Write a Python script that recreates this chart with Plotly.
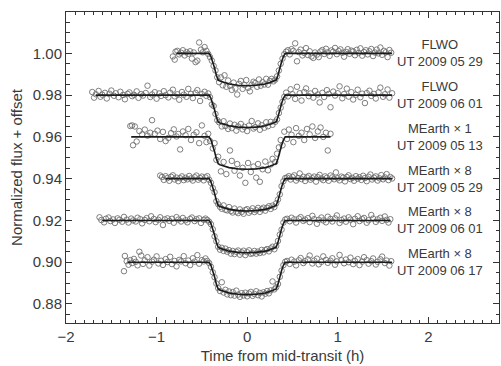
import plotly.graph_objects as go

# Offsets (normalized flux + offset) for each light curve
OFFSETS = [1.00, 0.98, 0.96, 0.94, 0.92, 0.90]
LABELS = ["FLWO<br>UT 2009 05 29", "FLWO<br>UT 2009 06 01", "MEarth \u00d7 1<br>UT 2009 05 13",
          "MEarth \u00d7 8<br>UT 2009 05 29", "MEarth \u00d7 8<br>UT 2009 06 01", "MEarth \u00d7 8<br>UT 2009 06 17"]
LINE_START = [-0.78, -1.67, -1.28, -0.90, -1.60, -1.32]
LINE_END = [1.60, 1.60, 0.92, 1.60, 1.58, 1.60]

# transit model (time h, relative flux in parts per thousand)
MODEL_T = [-0.42, -0.40, -0.38, -0.36, -0.34, -0.32, -0.30, -0.25, -0.20, -0.10, 0.0,
           0.10, 0.20, 0.25, 0.30, 0.32, 0.34, 0.36, 0.38, 0.40, 0.42]
MODEL_F = [0.0, -1.5, -4.0, -7.0, -10.5, -12.8, -13.3, -14.0, -14.7, -15.3, -15.5,
           -15.3, -14.7, -14.0, -13.3, -12.8, -10.5, -7.0, -4.0, -1.5, 0.0]

# observed points: (time h, relative flux ppt)
FLWO_0529 = [(-0.82,-1.5),(-0.80,-3.0),(-0.79,0.8),(-0.77,1.2),(-0.75,-0.5),(-0.73,0.3),(-0.71,1.5),(-0.69,-1.0),(-0.67,0.6),(-0.65,-0.2),
    (-0.63,1.0),(-0.61,-2.5),(-0.59,0.4),(-0.57,-4.2),(-0.55,-3.5),(-0.53,5.2),(-0.51,1.8),(-0.49,0.5),(-0.47,3.0),(-0.45,1.2),(-0.43,-0.3),
    (-0.41,-1.8),(-0.39,-3.5),(-0.37,-6.0),(-0.35,-8.2),(-0.33,-11.5),(-0.31,-13.8),
    (-0.29,-11.5),(-0.27,-15.3),(-0.25,-10.5),(-0.23,-16.0),(-0.21,-13.0),(-0.19,-15.5),(-0.17,-17.5),(-0.15,-14.0),(-0.13,-16.8),(-0.11,-19.7),
    (-0.09,-14.6),(-0.07,-13.2),(-0.05,-17.0),(-0.03,-15.2),(-0.01,-12.8),(0.01,-16.5),(0.03,-18.2),(0.05,-15.0),(0.07,-13.6),(0.09,-14.2),
    (0.11,-16.0),(0.13,-12.5),(0.15,-15.5),(0.17,-13.8),(0.19,-14.9),(0.21,-12.2),(0.23,-15.0),(0.25,-13.2),(0.27,-12.2),(0.29,-13.4),
    (0.31,-12.6),(0.33,-11.0),(0.35,-8.2),(0.37,-5.0),(0.39,-2.5),(0.41,-0.4),
    (0.43,0.8),(0.45,1.5),(0.47,-0.5),(0.49,2.0),(0.51,1.2),(0.53,4.8),(0.55,-3.8),(0.57,0.6),(0.59,1.8),(0.61,-1.0),
    (0.63,0.2),(0.65,2.5),(0.67,-0.8),(0.69,1.0),(0.71,-1.5),(0.73,-2.2),(0.75,0.4),(0.77,-0.6),(0.79,-1.8),(0.81,0.9),
    (0.83,1.6),(0.85,-0.3),(0.87,2.2),(0.89,0.5),(0.91,-1.2),(0.93,1.4),(0.95,0.8),(0.97,2.6),(0.99,-0.4),(1.01,1.1),
    (1.03,1.9),(1.05,0.3),(1.07,-1.6),(1.09,0.7),(1.11,2.0),(1.13,-0.2),(1.15,1.3),(1.17,0.9),(1.19,-0.9),(1.21,1.7),
    (1.23,0.2),(1.25,2.4),(1.27,-1.1),(1.29,0.6),(1.31,1.5),(1.33,-0.5),(1.35,1.0),(1.37,2.1),(1.39,-1.3),(1.41,0.4),
    (1.43,1.8),(1.45,0.0),(1.47,2.8),(1.49,-0.7),(1.51,1.2),(1.53,0.5),(1.55,-1.8),(1.57,1.6),(1.59,0.3)]

FLWO_0601 = [(-1.71,1.5),(-1.69,-1.2),(-1.67,0.4),(-1.64,2.0),(-1.62,-0.8),(-1.60,0.2),(-1.57,1.1),(-1.55,-1.6),(-1.52,0.7),(-1.50,2.2),
    (-1.47,-0.3),(-1.45,0.9),(-1.42,-1.0),(-1.40,1.6),(-1.37,0.1),(-1.35,-2.0),(-1.32,0.6),(-1.30,1.3),(-1.27,-0.5),(-1.25,0.2),
    (-1.22,1.8),(-1.20,-1.3),(-1.17,0.5),(-1.15,-0.2),(-1.12,1.0),(-1.10,4.5),(-1.07,-0.9),(-1.05,0.3),(-1.02,1.4),(-1.00,-1.7),
    (-0.97,0.8),(-0.95,-0.4),(-0.92,1.9),(-0.90,0.0),(-0.87,-1.1),(-0.85,1.2),(-0.82,2.6),(-0.80,-0.6),(-0.77,0.4),(-0.75,-2.2),
    (-0.72,1.5),(-0.70,0.2),(-0.67,-0.8),(-0.65,3.0),(-0.62,0.6),(-0.60,-1.4),(-0.57,1.1),(-0.55,2.4),(-0.52,-2.8),(-0.50,0.5),
    (-0.47,1.6),(-0.45,-0.4),(-0.43,0.8),
    (-0.41,-1.0),(-0.39,-4.5),(-0.37,-5.2),(-0.35,-9.0),(-0.33,-12.0),(-0.31,-13.0),
    (-0.28,-15.0),(-0.26,-12.5),(-0.24,-14.8),(-0.21,-16.2),(-0.19,-13.6),(-0.17,-15.8),(-0.14,-14.2),(-0.12,-17.0),(-0.10,-15.0),(-0.07,-13.8),
    (-0.05,-16.4),(-0.03,-15.2),(0.00,-17.2),(0.02,-14.6),(0.05,-12.4),(0.07,-16.0),(0.09,-15.3),(0.12,-13.5),(0.14,-16.6),(0.16,-14.4),
    (0.19,-15.6),(0.21,-13.0),(0.23,-14.9),(0.26,-12.8),(0.28,-14.2),
    (0.31,-12.8),(0.33,-11.6),(0.35,-8.6),(0.37,-6.0),(0.39,-3.2),(0.41,-0.8),
    (0.43,1.2),(0.45,-0.6),(0.48,2.8),(0.50,0.4),(0.53,-1.8),(0.55,4.0),(0.58,0.9),(0.60,-2.6),(0.63,1.5),(0.65,3.2),
    (0.68,-0.5),(0.70,0.8),(0.73,-1.2),(0.75,2.0),(0.78,0.3),(0.80,-3.5),(0.83,1.1),(0.85,-0.9),(0.88,2.4),(0.90,0.6),
    (0.92,-5.8),(0.95,1.7),(0.97,-0.2),(1.00,0.9),(1.02,4.2),(1.05,-1.5),(1.07,0.5),(1.10,3.1),(1.12,-0.7),(1.15,1.4),
    (1.17,-2.1),(1.20,0.2),(1.22,2.6),(1.25,-1.0),(1.27,0.7),(1.30,-3.8),(1.32,1.0),(1.35,2.1),(1.37,-0.4),(1.40,0.6),
    (1.42,-1.6),(1.45,1.3),(1.47,3.6),(1.50,-0.8),(1.52,0.4),(1.55,2.7),(1.57,-1.2),(1.60,0.9)]

MEARTH1_0513 = [(-1.29,5.2),(-1.27,5.5),(-1.26,-4.0),(-1.24,5.0),(-1.22,-2.2),(-1.19,2.8),(-1.16,1.2),(-1.13,3.5),(-1.10,0.6),(-1.07,2.0),
    (-1.05,8.0),(-1.02,1.5),(-0.99,3.0),(-0.96,-1.0),(-0.93,2.4),(-0.90,-2.0),(-0.87,-0.5),(-0.84,1.8),(-0.81,3.6),(-0.78,0.2),
    (-0.76,1.4),(-0.74,-6.0),(-0.71,2.6),(-0.68,0.8),(-0.65,3.8),(-0.62,-1.5),(-0.59,1.0),(-0.56,2.2),(-0.53,-3.0),(-0.50,5.5),
    (-0.47,0.5),(-0.45,-2.5),(-0.43,1.5),
    (-0.41,-2.0),(-0.38,-5.5),(-0.36,-3.0),(-0.34,-11.0),(-0.32,-9.5),
    (-0.29,-16.5),(-0.26,-12.0),(-0.23,-17.8),(-0.19,-6.5),(-0.17,-11.5),(-0.14,-16.2),(-0.11,-13.0),(-0.08,-18.5),(-0.05,-14.8),(-0.02,-22.0),
    (0.01,-12.5),(0.04,-16.8),(0.07,-14.2),(0.10,-19.5),(0.12,-13.0),(0.14,-21.5),(0.17,-15.5),(0.20,-11.8),(0.23,-16.0),(0.26,-13.2),(0.28,-10.5),
    (0.31,-12.0),(0.33,-8.0),(0.35,-5.0),(0.37,-1.5),(0.39,-4.0),(0.41,2.5),
    (0.44,-1.0),(0.46,3.5),(0.49,1.0),(0.51,-2.5),(0.54,4.2),(0.57,0.5),(0.60,2.0),(0.63,-1.5),(0.66,3.8),(0.69,1.2),
    (0.72,5.0),(0.75,-0.5),(0.78,2.6),(0.81,4.5),(0.84,0.0),(0.87,2.0),(0.89,-6.5),(0.92,1.5)]

MEARTH8_0529 = [(-0.96,1.5),(-0.94,0.8),(-0.92,-0.6),(-0.90,1.2),(-0.88,0.3),(-0.86,-1.0),(-0.84,0.9),(-0.82,1.6),(-0.80,-0.4),(-0.78,0.5),
    (-0.76,-1.2),(-0.74,0.2),(-0.72,1.1),(-0.70,-0.7),(-0.68,0.4),(-0.66,-0.3),(-0.64,1.3),(-0.62,0.1),(-0.60,-0.9),(-0.58,0.7),
    (-0.56,1.5),(-0.54,-0.5),(-0.52,0.3),(-0.50,1.0),(-0.48,-0.8),(-0.46,0.6),(-0.44,1.2),
    (-0.42,-0.5),(-0.40,-2.0),(-0.38,-4.5),(-0.36,-6.5),(-0.34,-10.8),(-0.32,-12.2),
    (-0.30,-13.5),(-0.28,-14.4),(-0.26,-12.8),(-0.24,-14.9),(-0.22,-15.2),(-0.20,-13.6),(-0.18,-15.5),(-0.16,-16.2),(-0.14,-14.3),(-0.12,-15.8),
    (-0.10,-16.5),(-0.08,-14.7),(-0.06,-15.9),(-0.04,-16.8),(-0.02,-15.0),(0.00,-14.6),(0.02,-16.3),(0.04,-15.4),(0.06,-14.2),(0.08,-16.0),
    (0.10,-15.1),(0.12,-14.0),(0.14,-15.9),(0.16,-14.6),(0.18,-13.9),(0.20,-15.3),(0.22,-14.0),(0.24,-13.2),(0.26,-14.5),(0.28,-12.9),(0.30,-13.6),
    (0.32,-11.8),(0.34,-10.0),(0.36,-7.5),(0.38,-3.6),(0.40,-1.2),(0.42,0.3),
    (0.44,0.5),(0.46,1.2),(0.48,-0.4),(0.50,0.8),(0.52,1.6),(0.54,-0.9),(0.56,0.3),(0.58,2.5),(0.60,-0.2),(0.62,0.9),
    (0.64,-1.1),(0.66,0.6),(0.68,1.3),(0.70,-0.5),(0.72,0.2),(0.74,1.0),(0.76,-1.4),(0.78,0.7),(0.80,1.8),(0.82,0.1),
    (0.84,-0.7),(0.86,1.1),(0.88,0.4),(0.90,-1.0),(0.92,1.5),(0.94,0.6),(0.96,-0.3),(0.98,3.0),(1.00,0.2),(1.02,-0.8),
    (1.04,1.0),(1.06,0.5),(1.08,-1.3),(1.10,0.8),(1.12,1.6),(1.14,-0.2),(1.16,0.4),(1.18,-1.0),(1.20,1.2),(1.22,0.0),
    (1.24,0.7),(1.26,-0.6),(1.28,1.4),(1.30,0.3),(1.32,-1.2),(1.34,0.9),(1.36,2.0),(1.38,-0.4),(1.40,0.5),(1.42,1.1),
    (1.44,-0.9),(1.46,0.2),(1.48,1.7),(1.50,-0.3),(1.52,0.6),(1.54,2.2),(1.56,-0.7),(1.58,0.8),(1.60,0.1)]

MEARTH8_0601 = [(-1.63,1.5),(-1.61,0.2),(-1.58,-0.9),(-1.56,0.8),(-1.53,1.4),(-1.51,-0.3),(-1.48,0.5),(-1.46,-1.2),(-1.43,1.0),(-1.41,0.3),
    (-1.38,-0.6),(-1.36,1.7),(-1.33,0.4),(-1.31,-1.0),(-1.28,0.9),(-1.26,0.0),(-1.23,-0.5),(-1.21,1.3),(-1.18,0.6),(-1.16,-1.4),
    (-1.13,0.2),(-1.11,1.1),(-1.08,-0.4),(-1.06,2.0),(-1.03,0.7),(-1.01,-0.8),(-0.98,0.3),(-0.96,1.5),(-0.93,-2.2),(-0.91,0.5),
    (-0.88,1.0),(-0.86,-0.2),(-0.83,0.8),(-0.81,-1.1),(-0.78,1.6),(-0.76,0.4),(-0.73,-0.5),(-0.71,1.2),(-0.68,0.1),(-0.66,-0.9),
    (-0.63,0.7),(-0.61,1.4),(-0.58,-0.3),(-0.56,0.6),(-0.53,1.0),(-0.51,-1.2),(-0.48,0.3),(-0.46,0.9),(-0.44,0.2),
    (-0.42,-0.6),(-0.40,-1.8),(-0.38,-4.2),(-0.36,-7.6),(-0.34,-10.0),(-0.32,-12.6),
    (-0.30,-14.0),(-0.28,-13.1),(-0.26,-14.6),(-0.24,-13.5),(-0.22,-15.0),(-0.20,-14.2),(-0.18,-15.9),(-0.16,-14.6),(-0.14,-16.1),(-0.12,-15.0),
    (-0.10,-14.4),(-0.08,-16.4),(-0.06,-15.3),(-0.04,-14.5),(-0.02,-16.6),(0.00,-15.2),(0.02,-14.3),(0.04,-16.0),(0.06,-15.7),(0.08,-14.6),
    (0.10,-15.9),(0.12,-14.9),(0.14,-15.6),(0.16,-14.1),(0.18,-15.3),(0.20,-14.2),(0.22,-13.7),(0.24,-14.8),(0.26,-13.4),(0.28,-12.6),(0.30,-13.8),
    (0.32,-12.2),(0.34,-9.8),(0.36,-6.8),(0.38,-4.4),(0.40,-1.0),(0.42,0.4),
    (0.44,0.8),(0.47,-0.4),(0.49,1.3),(0.52,0.5),(0.54,-1.0),(0.57,0.9),(0.59,1.6),(0.62,-0.2),(0.64,0.4),(0.67,1.1),
    (0.69,-0.8),(0.72,2.2),(0.74,0.6),(0.77,-1.6),(0.79,0.3),(0.82,1.4),(0.84,0.0),(0.87,-0.9),(0.89,1.8),(0.92,0.7),
    (0.94,-0.5),(0.97,1.0),(0.99,2.4),(1.02,-1.2),(1.04,0.2),(1.07,0.9),(1.09,-0.6),(1.12,1.5),(1.14,0.4),(1.17,-1.8),
    (1.19,0.8),(1.22,2.0),(1.24,-0.3),(1.27,0.6),(1.29,1.2),(1.32,-1.1),(1.34,0.1),(1.37,2.6),(1.39,0.9),(1.42,-0.7),
    (1.44,0.5),(1.47,1.3),(1.49,-0.2),(1.52,1.9),(1.54,0.3),(1.56,-1.0),(1.58,0.6)]

MEARTH8_0617 = [(-1.36,-4.3),(-1.35,3.0),(-1.33,0.5),(-1.31,-1.2),(-1.29,1.0),(-1.27,-0.4),(-1.25,1.6),(-1.23,0.2),(-1.21,-1.5),(-1.19,5.0),
    (-1.17,3.2),(-1.15,-0.8),(-1.13,0.9),(-1.10,2.4),(-1.08,-1.6),(-1.05,0.3),(-1.03,1.2),(-1.00,2.8),(-0.98,-0.6),(-0.95,0.7),
    (-0.93,-1.3),(-0.90,1.5),(-0.88,0.1),(-0.85,2.6),(-0.83,-0.9),(-0.80,0.6),(-0.78,-2.0),(-0.75,1.1),(-0.73,0.4),(-0.70,2.9),
    (-0.68,-0.5),(-0.65,0.8),(-0.63,-1.4),(-0.60,1.9),(-0.58,0.3),(-0.55,3.4),(-0.53,-0.7),(-0.50,1.0),(-0.48,0.4),(-0.46,1.8),(-0.44,0.6),
    (-0.42,-0.4),(-0.40,-2.2),(-0.38,-4.8),(-0.36,-7.2),(-0.34,-10.2),(-0.32,-12.4),
    (-0.30,-13.8),(-0.28,-9.6),(-0.26,-14.5),(-0.24,-13.2),(-0.22,-15.4),(-0.20,-14.0),(-0.18,-15.8),(-0.16,-14.3),(-0.14,-16.0),(-0.12,-13.6),
    (-0.10,-15.5),(-0.08,-16.6),(-0.06,-14.8),(-0.04,-15.9),(-0.02,-14.6),(0.00,-16.3),(0.02,-15.0),(0.04,-14.2),(0.06,-16.1),(0.08,-15.2),
    (0.10,-13.9),(0.12,-15.8),(0.14,-14.7),(0.16,-16.4),(0.18,-14.4),(0.20,-15.1),(0.22,-13.8),(0.24,-14.9),(0.26,-13.5),(0.28,-9.2),(0.30,-13.0),
    (0.32,-12.0),(0.34,-10.4),(0.36,-7.0),(0.38,-4.0),(0.40,-1.4),(0.42,0.2),
    (0.44,0.6),(0.47,-0.8),(0.49,1.2),(0.52,0.3),(0.54,-1.5),(0.57,0.9),(0.59,2.0),(0.62,-0.4),(0.64,0.5),(0.67,1.4),
    (0.69,3.2),(0.72,-0.6),(0.74,0.8),(0.77,1.7),(0.79,-1.0),(0.82,0.2),(0.84,2.8),(0.87,1.1),(0.89,-0.3),(0.92,0.7),
    (0.94,1.9),(0.97,-1.2),(0.99,0.4),(1.02,3.5),(1.04,0.9),(1.07,-0.5),(1.09,1.3),(1.12,0.0),(1.14,2.2),(1.17,-0.9),
    (1.19,0.6),(1.22,1.5),(1.24,-1.4),(1.27,0.3),(1.29,2.4),(1.32,1.0),(1.34,-0.7),(1.37,0.5),(1.39,1.8),(1.42,-1.1),
    (1.44,0.2),(1.47,1.4),(1.49,2.7),(1.52,-0.4),(1.54,0.8),(1.57,-1.6),(1.59,0.5)]

SERIES = [FLWO_0529, FLWO_0601, MEARTH1_0513, MEARTH8_0529, MEARTH8_0601, MEARTH8_0617]

X_TICKS = [-2, -1, 0, 1, 2]
Y_TICKS = [0.88, 0.90, 0.92, 0.94, 0.96, 0.98, 1.00]

TEXT = "#3a3a3a"
FONT = "Liberation Sans, Arial, sans-serif"

fig = go.Figure()
for pts, off, ls, le in zip(SERIES, OFFSETS, LINE_START, LINE_END):
    t = [p[0] for p in pts]
    f = [off + p[1] / 1000.0 for p in pts]
    fig.add_trace(go.Scatter(x=t, y=f, mode="markers", showlegend=False, hoverinfo="skip",
                             marker=dict(symbol="circle-open", size=5.5, color="#707070",
                                         line=dict(width=0.9, color="#707070"))))
    mx = [ls] + MODEL_T + [le]
    my = [off] + [off + v / 1000.0 for v in MODEL_F] + [off]
    fig.add_trace(go.Scatter(x=mx, y=my, mode="lines", showlegend=False, hoverinfo="skip",
                             line=dict(color="#1a1a1a", width=1.6)))

for off, lab in zip(OFFSETS, LABELS):
    fig.add_annotation(x=2.13, y=off, text=lab, showarrow=False, xanchor="center", yanchor="middle",
                       font=dict(size=13, color=TEXT, family=FONT))

axis_common = dict(showline=True, linecolor="#333333", linewidth=1, mirror="ticks",
                   ticks="inside", tickcolor="#333333", showgrid=False, zeroline=False,
                   tickfont=dict(size=15, color=TEXT, family=FONT))

fig.update_xaxes(range=[-2, 2.78], tickvals=X_TICKS, ticklen=6,
                 minor=dict(dtick=0.1, ticks="inside", ticklen=3, tickcolor="#333333", showgrid=False),
                 title=dict(text="Time from mid-transit (h)", font=dict(size=15, color=TEXT, family=FONT), standoff=6),
                 **axis_common)
fig.update_yaxes(range=[0.8709, 1.0198], tickvals=Y_TICKS, tickformat=".2f", ticklen=6,
                 minor=dict(dtick=0.005, tick0=0.88, ticks="inside", ticklen=3.5, tickcolor="#333333", showgrid=False),
                 title=dict(text="Normalized flux + offset", font=dict(size=15, color=TEXT, family=FONT), standoff=6),
                 **axis_common)

fig.update_layout(width=501, height=366, margin=dict(l=66, r=2, t=12, b=43, autoexpand=False),
                  paper_bgcolor="white", plot_bgcolor="white", showlegend=False, hovermode=False)

fig.write_html("out.html", config={"displayModeBar": False, "staticPlot": True},
               post_script="document.body.style.margin='0';")
